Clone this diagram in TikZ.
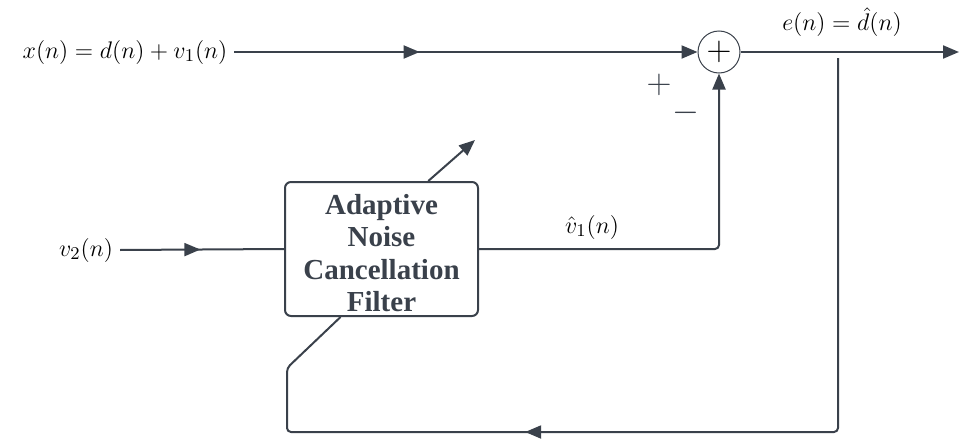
\documentclass[tikz,border=0pt]{standalone}
\usepackage{fontspec}
\setmainfont{Liberation Serif}
\usetikzlibrary{calc,arrows.meta,decorations.markings,positioning}

\definecolor{linegray}{HTML}{3A414B}

\tikzset{
  wire/.style={color=linegray, line width=1pt},
  tip/.style={-{Triangle[length=8pt,width=6.5pt]}},
  midarrow/.style={postaction={decorate},
    decoration={markings, mark=at position #1 with {\arrow{Triangle[length=8pt,width=6.5pt]}}}},
  filterbox/.style={draw=linegray, line width=1pt, rounded corners=3pt, inner sep=0pt,
    minimum width=96.5pt, minimum height=67pt},
  filtertext/.style={align=center, text=linegray, inner sep=0pt,
    font=\bfseries\fontsize{14.5}{16.3}\selectfont},
  sumnode/.style={circle, draw=linegray, line width=0.5pt, minimum size=21pt, inner sep=0pt},
  sig/.style={font=\fontsize{13.2}{16}\selectfont},
  sign/.style={text=linegray, font=\fontsize{16}{16}\selectfont}
}

\begin{document}
\begin{tikzpicture}[x=0.5pt,y=-0.5pt]
    \useasboundingbox (0,0) rectangle (960,439);

    % blocks
    \node[sumnode] (sum) at (719,52) {\fontsize{16}{16}\selectfont$+$};
    \node[filterbox] (anc) at (381.5,249) {};
    \node[filtertext] (anctext) at (381.5,253) {Adaptive\\Noise\\Cancellation\\Filter};

    % signals
    \node[sig] (xin) at (125,52) {$x(n) = d(n) + v_1(n)$};
    \node[sig] (v2in) at (86,250) {$v_2(n)$};
    \node[sig] (vhat) at (592,227) {$\hat{v}_1(n)$};
    \node[sig] (err) at (842,22) {$e(n) = \hat{d}(n)$};
    \node[sign] (plus) at (659,85) {$+$};
    \node[sign] (minus) at (686,113) {$-$};

    \coordinate (eout) at (959,52);
    \coordinate (split) at (838,58);
    \coordinate (fbright) at (838,432);
    \coordinate (fbleft) at (287,432);
    \coordinate (fbkink) at (287,368);
    \coordinate (adapt) at (475,140);

    % connections
    \draw[wire, tip, midarrow=0.4] (xin.east) -- (sum.west);
    \draw[wire, tip] (sum.east) -- (eout);
    \draw[wire, midarrow=0.49] (v2in.east) -- (anc.west);
    \draw[wire, tip, rounded corners=2pt] (anc.east) -| (sum.south);
    \draw[wire, rounded corners=2pt, midarrow=0.647] (split) -- (fbright) -- (fbleft) -- (fbkink)
        -- ($(anc.south west)!0.29!(anc.south east)$);
    \draw[wire, tip] ($(anc.north west)!0.74!(anc.north east)$) -- (adapt);

\end{tikzpicture}
\end{document}
